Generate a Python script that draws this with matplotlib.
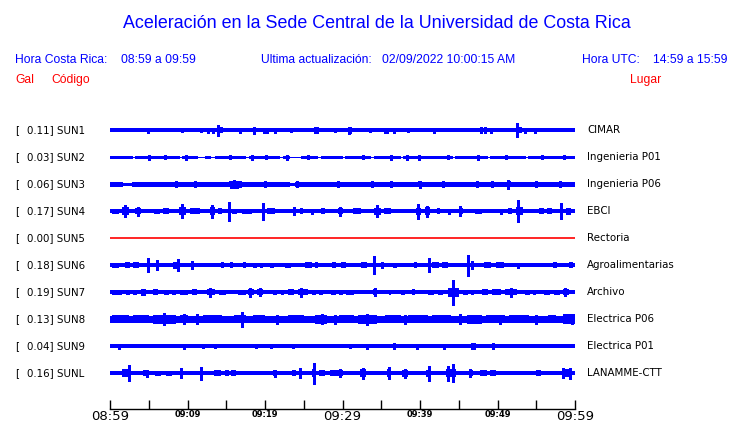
import matplotlib
matplotlib.use("Agg")
import matplotlib.pyplot as plt

# Datos
codigos = ["SUN1", "SUN2", "SUN3", "SUN4", "SUN5", "SUN6", "SUN7", "SUN8", "SUN9", "SUNL"]
lugares = ["CIMAR", "Ingenieria P01", "Ingenieria P06", "EBCI", "Rectoria",
           "Agroalimentarias", "Archivo", "Electrica P06", "Electrica P01", "LANAMME-CTT"]
gal = [0.11, 0.03, 0.06, 0.17, 0.00, 0.18, 0.19, 0.13, 0.04, 0.16]

# semiancho de la banda de ruido de fondo (px)
base = [2.0, 1.7, 2.4, 1.9, 0.0, 2.0, 2.0, 3.3, 1.9, 1.9]

# tramos tranquilos (inicio, fin, semiancho)
tranquilos = {
    "SUN2": [(3.0, 3.2, 0.6), (9.0, 9.3, 0.6), (11.4, 12.2, 0.6), (13.0, 13.5, 0.6),
             (17.6, 17.9, 0.6), (21.9, 22.3, 0.6), (23.2, 24.7, 0.6), (26.9, 27.2, 0.6),
             (30.0, 30.3, 0.6), (33.7, 34.0, 0.6), (37.6, 37.8, 0.6), (44.2, 44.5, 0.6),
             (48.8, 49.0, 0.6), (53.7, 53.9, 0.6)],
    "SUN3": [(1.7, 2.9, 1.5), (23.2, 23.9, 1.5)],
}

# picos (minuto, semiamplitud px)
picos = {
    "SUN1": [(4.9, 2.5), (9.3, 2), (11.8, 2), (12.7, 2.5), (13.3, 2.5), (13.9, 5.5),
             (16.8, 2.5), (18.6, 3.5), (19.9, 2.5), (20.2, 2.5), (21.3, 2.5), (23.4, 1.8),
             (26.5, 3), (26.7, 3), (29.0, 2), (30.8, 3.5), (31.0, 3), (33.5, 2), (35.5, 2.5),
             (35.8, 2.5), (36.6, 2.5), (38.5, 1.8), (41.8, 2.5), (47.9, 3), (48.4, 3),
             (49.2, 2.5), (52.5, 7), (53.6, 2.5), (54.8, 2.5)],
    "SUN2": [(5.0, 2.3), (7.1, 2.2), (9.8, 2.3), (15.5, 2.2), (18.3, 2.3), (20.1, 2.2),
             (22.8, 2.3), (25.6, 2.2), (32.6, 2.2), (36.2, 2.3), (38.3, 2.3), (39.9, 2.3),
             (43.6, 2.2), (47.5, 2.3), (51.1, 2.2), (55.8, 2.2), (58.6, 2.2)],
    "SUN3": [(15.6, 3.5), (16.0, 3.8), (16.4, 3.5), (16.8, 3.2), (40.0, 3.5), (51.4, 4.3),
             (8.5, 2.8), (11.0, 2.8), (20.0, 2.8), (24.1, 2.8), (29.4, 2.8), (33.8, 3),
             (36.3, 2.8), (43.0, 3), (47.4, 3), (49.3, 3), (55.0, 2.8), (58.0, 2.8)],
    "SUN4": [(1.9, 6), (3.6, 4.5), (5.8, 2), (6.2, 2), (9.3, 7), (13.2, 6.5), (15.3, 9.3),
             (19.8, 8.5), (23.7, 4), (26.0, 2.5), (29.7, 4.5), (34.4, 6), (39.8, 7.5),
             (40.9, 5.5), (43.7, 2.5), (45.2, 5), (50.5, 2.5), (52.6, 11), (58.2, 8)],
    "SUN5": [],
    "SUN6": [(4.9, 7), (6.0, 5), (8.8, 6), (10.6, 4), (34.0, 9), (35.1, 3), (41.2, 7),
             (46.2, 10.5), (46.7, 4), (52.7, 2.5)],
    "SUN7": [(12.9, 4.5), (18.1, 4.5), (19.4, 4), (24.6, 4.5), (34.2, 4), (44.2, 12.5),
             (51.8, 4.5), (58.7, 4)],
    "SUN8": [(7.0, 6), (9.6, 5), (11.2, 5), (17.0, 7.7), (21.5, 4.5), (27.3, 5), (29.0, 4.5),
             (33.1, 5.5), (38.0, 4.5), (45.2, 5), (50.3, 4.5), (55.0, 4.5), (59.6, 5)],
    "SUN9": [(1.2, 2.5), (9.6, 2.5), (12.0, 2), (13.5, 2), (18.9, 2), (20.8, 2), (23.6, 2),
             (31.0, 2), (33.1, 2.8), (36.6, 3), (39.6, 2.5), (43.1, 2.5), (46.7, 3), (47.0, 3),
             (49.4, 3)],
    "SUNL": [(2.4, 8), (4.8, 3.5), (9.2, 5), (11.7, 6.5), (21.3, 3.5), (24.5, 5), (26.3, 10.5),
             (29.7, 4), (32.6, 5.5), (36.0, 6), (38.1, 4.5), (41.1, 7.5), (43.6, 7.5), (44.3, 9),
             (46.5, 4), (58.5, 5), (59.4, 5.5)],
}

# rafagas (inicio, fin, semiamplitud px)
rafagas = {
    "SUN1": [(13.8, 14.6, 2.8), (52.4, 53.1, 2.8)],
    "SUN2": [],
    "SUN3": [(15.3, 17.0, 3.0), (39.8, 40.3, 3.0), (51.2, 51.7, 3.0)],
    "SUN4": [(0.2, 1.2, 2.5), (1.5, 2.4, 4.0), (3.2, 4.0, 3.2), (6.8, 7.6, 2.8), (8.9, 9.8, 4.0),
             (10.3, 11.6, 2.8), (12.9, 13.6, 4.0), (13.9, 14.5, 2.8), (15.8, 16.4, 2.5),
             (17.0, 18.3, 2.5), (20.2, 21.3, 3.2), (24.5, 24.9, 2.8), (27.2, 27.8, 3.2),
             (29.4, 30.0, 3.2), (31.3, 32.4, 3.2), (34.0, 35.0, 3.6), (35.4, 36.3, 3.2),
             (39.5, 40.1, 3.6), (40.6, 41.3, 4.0), (42.2, 42.6, 2.8), (45.0, 45.5, 3.2),
             (47.1, 48.0, 2.5), (51.4, 51.9, 2.8), (52.4, 53.3, 4.0), (55.3, 56.0, 3.2),
             (56.4, 57.0, 3.2), (58.8, 59.5, 3.6)],
    "SUN5": [],
    "SUN6": [(0.3, 1.1, 2.5), (1.9, 2.6, 2.8), (3.0, 3.7, 2.8), (8.1, 8.9, 3.5), (14.3, 14.7, 2.8),
             (15.5, 15.9, 2.8), (17.2, 17.6, 2.8), (18.5, 19.0, 2.5), (19.4, 19.8, 2.5),
             (20.6, 21.2, 2.5), (22.6, 23.4, 2.5), (25.2, 26.0, 3.2), (26.4, 26.9, 3.0),
             (28.6, 29.2, 2.8), (29.8, 30.5, 2.8), (32.4, 33.1, 2.8), (36.5, 37.0, 2.5),
             (39.2, 39.6, 2.8), (41.6, 42.4, 2.8), (42.9, 43.6, 2.8), (48.3, 49.2, 2.8),
             (49.8, 50.8, 2.8), (57.1, 57.7, 3.2), (59.2, 59.8, 2.8)],
    "SUN7": [(0.3, 1.5, 2.5), (2.0, 2.6, 2.5), (3.0, 3.5, 2.5), (4.0, 4.6, 3.5), (5.6, 6.2, 3.2),
             (7.0, 7.6, 2.5), (8.0, 8.5, 2.5), (9.0, 10.0, 2.5), (10.6, 11.2, 3.2),
             (12.5, 13.5, 2.8), (14.0, 15.0, 2.5), (16.5, 17.5, 2.5), (17.8, 18.6, 3.2),
             (19.0, 19.8, 3.2), (21.0, 21.6, 2.5), (22.0, 22.5, 2.5), (23.0, 23.8, 3.0),
             (24.3, 25.5, 3.0), (26.0, 26.6, 2.5), (27.0, 27.5, 2.5), (28.5, 29.2, 2.5),
             (29.6, 30.0, 2.5), (30.5, 31.5, 2.5), (33.9, 34.4, 3.2), (36.0, 36.3, 2.5),
             (37.5, 38.0, 2.5), (39.0, 39.4, 2.8), (41.0, 41.8, 2.5), (42.3, 43.0, 2.5),
             (43.6, 45.0, 4.5), (45.5, 46.2, 2.5), (46.6, 47.0, 2.5), (48.0, 48.8, 2.8),
             (49.3, 50.5, 2.8), (51.0, 52.5, 2.8), (53.5, 54.2, 2.5), (54.6, 55.0, 2.5),
             (56.0, 56.8, 2.5), (57.3, 58.0, 2.5), (58.5, 59.2, 2.8)],
    "SUN8": [(0.2, 2.5, 4.2), (3.0, 5.0, 3.8), (5.5, 8.5, 4.3), (9.0, 10.0, 4.0), (12.0, 14.5, 4.0),
             (16.0, 17.5, 4.2), (18.5, 20.0, 3.8), (23.0, 25.0, 3.8), (26.5, 28.0, 4.3),
             (29.5, 31.5, 3.8), (32.0, 34.5, 4.3), (35.5, 37.5, 4.0), (38.5, 41.0, 3.8),
             (41.5, 44.0, 4.0), (46.0, 48.0, 4.3), (48.5, 51.0, 3.8), (51.5, 54.0, 4.0),
             (56.5, 57.5, 4.0), (58.5, 60.0, 4.8)],
    "SUN9": [(33.0, 33.3, 2.6), (49.3, 49.6, 2.8)],
    "SUNL": [(1.6, 2.6, 3.8), (4.2, 5.0, 3.2), (5.8, 6.6, 2.5), (7.2, 8.0, 2.5), (13.4, 14.3, 3.2),
             (14.8, 15.4, 3.0), (15.6, 16.2, 3.2), (21.0, 21.6, 2.8), (23.5, 24.0, 2.8),
             (26.0, 26.6, 4.0), (27.0, 27.8, 2.8), (28.4, 30.0, 2.8), (32.3, 33.0, 4.0),
             (35.7, 36.3, 4.0), (37.7, 38.5, 3.6), (40.8, 41.4, 3.6), (43.3, 44.6, 4.0),
             (46.3, 46.8, 3.2), (47.8, 48.6, 3.2), (49.0, 49.8, 3.2), (55.0, 55.6, 3.2),
             (58.3, 59.6, 4.0)],
}

ticks_min = list(range(0, 61, 5))
etiquetas = {0: "08:59", 10: "09:09", 20: "09:19", 30: "09:29", 40: "09:39", 50: "09:49", 60: "09:59"}
grandes = [0, 30, 60]

AZUL = "#0000ff"
ROJO = "#ff0000"
W, H = 740, 423

fig = plt.figure(figsize=(W / 100, H / 100), dpi=100)


def fx(px):
    return px / W


def fy(py):
    return 1 - py / H


hdr = dict(family="Liberation Sans", color=AZUL)
fig.text(fx(377), fy(23), "Aceleración en la Sede Central de la Universidad de Costa Rica",
         ha="center", va="center", fontsize=12.9, **hdr)
fig.text(fx(15), fy(60), "Hora Costa Rica:", va="center", fontsize=8.7, **hdr)
fig.text(fx(121), fy(60), "08:59 a 09:59", va="center", fontsize=8.7, **hdr)
fig.text(fx(261), fy(60), "Ultima actualización:", va="center", fontsize=8.7, **hdr)
fig.text(fx(382), fy(60), "02/09/2022 10:00:15 AM", va="center", fontsize=8.7, **hdr)
fig.text(fx(582), fy(60), "Hora UTC:", va="center", fontsize=8.7, **hdr)
fig.text(fx(653), fy(60), "14:59 a 15:59", va="center", fontsize=8.7, **hdr)
fig.text(fx(15), fy(80), "Gal", va="center", fontsize=8.7, family="Liberation Sans", color=ROJO)
fig.text(fx(51), fy(80), "Código", va="center", fontsize=8.7, family="Liberation Sans", color=ROJO)
fig.text(fx(630), fy(80), "Lugar", va="center", fontsize=8.7, family="Liberation Sans", color=ROJO)

# ejes de las trazas: y en px medidos desde la linea del eje (409 px)
x0, x1, ytop, ybot = 110, 575, 115, 409
ax = fig.add_axes([fx(x0), fy(ybot), (x1 - x0) / W, (ybot - ytop) / H])
ax.set_xlim(0, 60)
ax.set_ylim(0, ybot - ytop)

for i, cod in enumerate(codigos):
    c = ybot - (130.3 + 27 * i)
    if base[i] == 0:
        ax.plot([0, 60], [c, c], color=ROJO, lw=1.2)
    else:
        ax.fill_between([0, 60], c - base[i], c + base[i], color=AZUL, lw=0, antialiased=False)
        for t0, t1, h in tranquilos.get(cod, []):
            ax.fill_between([t0, t1], c - base[i], c + base[i], color="white", lw=0,
                            antialiased=False)
            ax.fill_between([t0, t1], c - h, c + h, color=AZUL, lw=0, antialiased=False)
        for t0, t1, a in rafagas[cod]:
            ax.fill_between([t0, t1], c - a, c + a, color=AZUL, lw=0, antialiased=False)
        if picos[cod]:
            ts = [p[0] for p in picos[cod]]
            amps = [p[1] for p in picos[cod]]
            ax.vlines(ts, [c - a for a in amps], [c + a for a in amps], color=AZUL, lw=1.0,
                      antialiased=False)
    yfig = fy(130.3 + 27 * i)
    fig.text(fx(15), yfig, "[", va="center", fontsize=7.4, family="DejaVu Sans")
    fig.text(fx(27), yfig, f"{gal[i]:.2f}] {cod}", va="center", fontsize=7.4, family="DejaVu Sans")
    fig.text(fx(587), yfig, lugares[i], va="center", fontsize=7.4, family="DejaVu Sans")

for s in ["top", "left", "right"]:
    ax.spines[s].set_visible(False)
ax.spines["bottom"].set_linewidth(1.0)
ax.set_yticks([])
ax.set_xticks(ticks_min)
ax.tick_params(axis="x", direction="in", length=6.5, width=1.0, labelbottom=False)

for m, lab in etiquetas.items():
    if m in grandes:
        ax.text(m, -7, lab, ha="center", va="center", fontsize=9.5,
                family="DejaVu Sans", clip_on=False)
    else:
        ax.text(m, -5.5, lab, ha="center", va="center", fontsize=6,
                family="DejaVu Sans", fontweight="bold", clip_on=False)

fig.savefig("out.png", dpi=100)
